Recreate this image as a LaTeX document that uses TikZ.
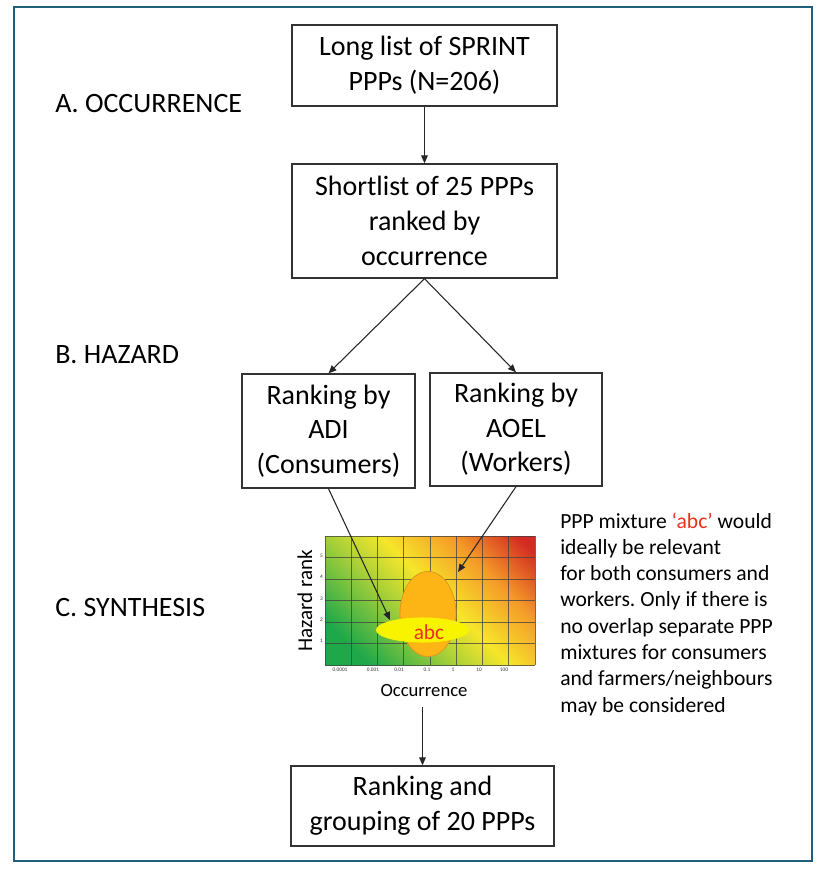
\documentclass[tikz,border=0pt]{standalone}
\usepackage{fontspec}
\setmainfont{Carlito}
\usetikzlibrary{arrows.meta}
\frenchspacing

\definecolor{frameblue}{HTML}{1F5F7A}
\definecolor{hazgreen}{HTML}{1FA84A}
\definecolor{hazlime}{HTML}{A8D038}
\definecolor{hazyellow}{HTML}{F6E62A}
\definecolor{hazorange}{HTML}{F49A28}
\definecolor{hazred}{HTML}{D42A22}
\definecolor{ppporange}{HTML}{FDB515}
\definecolor{ppporangedark}{HTML}{D9981E}
\definecolor{pppyellow}{HTML}{F8F400}
\definecolor{abcred}{HTML}{E8321E}

\pgfdeclarehorizontalshading{heatmap}{100bp}{color(0bp)=(hazgreen); color(24bp)=(hazgreen); color(42bp)=(hazlime); color(53bp)=(hazyellow); color(68bp)=(hazorange); color(82bp)=(hazred); color(100bp)=(hazred)}

\tikzset{
  >={Triangle[length=6pt,width=5pt]},
  box/.style={draw=black!80, line width=1pt, align=center, inner sep=0pt,
    font=\fontsize{21}{26}\selectfont},
  stage/.style={anchor=west, inner sep=0pt, font=\fontsize{21}{26}\selectfont},
  link/.style={->, black!85, line width=0.8pt},
  gridline/.style={black!75, line width=0.6pt, opacity=0.75},
  tick/.style={inner sep=0pt, font=\fontsize{4}{4}\selectfont, black!80}
}

\begin{document}
\begin{tikzpicture}[x=0.75pt, y=-0.75pt]
        \useasboundingbox (0,0) rectangle (826,872);
        \draw[frameblue, line width=2pt] (14,7) rectangle (812,861);

        \node[box, minimum width=198.75pt, minimum height=60.75pt] (longlist) at (424.5,65.5)
            {Long list of SPRINT\\PPPs (N=206)};
        \node[box, minimum width=198.75pt, minimum height=85.5pt] (shortlist) at (424.5,221)
            {Shortlist of 25 PPPs\\ranked by\\occurrence};
        \node[box, minimum width=129.75pt, minimum height=85.5pt] (adi) at (328.5,431)
            {Ranking by\\ADI\\(Consumers)};
        \node[box, minimum width=129pt, minimum height=84.75pt] (aoel) at (516,429.5)
            {Ranking by\\AOEL\\(Workers)};
        \node[box, minimum width=197.25pt, minimum height=60pt] (grouping) at (422.5,806)
            {Ranking and\\grouping of 20 PPPs};

        \node[stage] (occ) at (55,103.5) {A. OCCURRENCE};
        \node[stage] (haz) at (55,355) {B. HAZARD};
        \node[stage] (syn) at (55,608) {C. SYNTHESIS};

        \shade[shading=heatmap, shading angle=45] (325,536) rectangle (535,665);
        \foreach \i in {0,...,8}
            \draw[gridline] ({325+\i*26.25},536) -- ({325+\i*26.25},665);
        \foreach \j in {0,...,6}
            \draw[gridline] (325,{536+\j*21.5}) -- (535,{536+\j*21.5});
        \foreach \y/\t in {556/5, 577/4, 599/3, 620/2, 641/1}
            \node[tick, anchor=east] at (323,\y) {\t};
        \foreach \x/\t in {340/0.0001, 373/0.001, 399/0.01, 427/0.1, 453/1, 479/10, 504/100}
            \node[tick] at (\x,670) {\t};
        \draw[fill=ppporange, draw=ppporangedark, line width=0.6pt] (428,614) ellipse [x radius=21pt, y radius=31.9pt];
        \fill[pppyellow] (422.5,630) ellipse [x radius=34.9pt, y radius=9.4pt];
        \node[text=abcred, font=\fontsize{16}{16}\selectfont, inner sep=0pt] (abc) at (429,632) {abc};
        \node[rotate=90, inner sep=0pt, font=\fontsize{15.8}{16}\selectfont] (hazrank) at (305,601) {Hazard rank};
        \node[inner sep=0pt, font=\fontsize{14}{14}\selectfont] (occaxis) at (424,691) {Occurrence};
        \coordinate (adiTip) at (390,620);
        \coordinate (aoelTip) at (458,572);
        \coordinate (chartBottom) at (422.5,707);

        \node[anchor=base west, align=left, inner sep=0pt, font=\fontsize{16.2}{19.7}\selectfont] (note) at (560,712)
            {PPP mixture \textcolor{abcred}{‘abc’} would\\ideally be relevant\\for both consumers and\\workers. Only if there is\\no overlap separate PPP\\mixtures for consumers\\and farmers/neighbours\\may be considered};

        \draw[link] (longlist) -- (shortlist);
        \draw[link] (shortlist.south) -- (adi.north);
        \draw[link] (shortlist.south) -- (aoel.north);
        \draw[link] (adi.south) -- (adiTip);
        \draw[link] (aoel.south) -- (aoelTip);
        \draw[link] (chartBottom) -- (grouping);
\end{tikzpicture}
\end{document}
